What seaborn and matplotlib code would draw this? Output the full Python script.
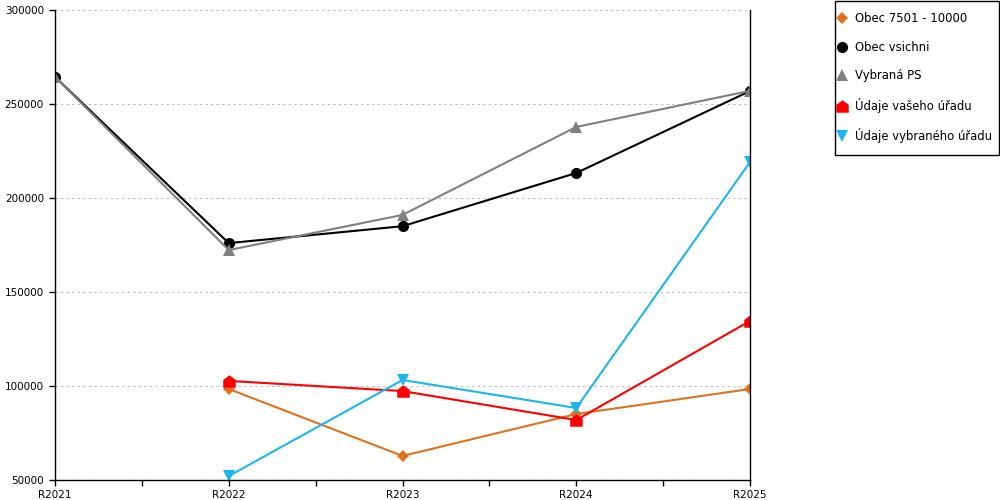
import matplotlib
matplotlib.use("Agg")
import matplotlib.pyplot as plt
import seaborn as sns
import pandas as pd
import numpy as np
from matplotlib.lines import Line2D
from matplotlib.patches import Rectangle

years = ["R2021", "R2022", "R2023", "R2024", "R2025"]

obec_7501 = [np.nan, 98400, 62800, 85100, 98400]
obec_vsichni = [264400, 176000, 185000, 213300, 256900]
vybrana_ps = [264400, 172300, 191000, 237800, 257000]
udaje_vaseho = [np.nan, 102700, 97300, 81900, 134600]
udaje_vybraneho = [np.nan, 52100, 103200, 88300, 219100]

# house shaped marker for the red series
house = [(-1, -1), (1, -1), (1, 0.25), (0, 1), (-1, 0.25), (-1, -1)]

series = [
    ("Obec 7501 - 10000", obec_7501, "#E2711D", "D", 6),
    ("Obec vsichni", obec_vsichni, "#000000", "o", 8),
    ("Vybraná PS", vybrana_ps, "#808080", "^", 8),
    ("Údaje vašeho úřadu", udaje_vaseho, "#FF0000", house, 9),
    ("Údaje vybraného úřadu", udaje_vybraneho, "#1CB5F0", "v", 9),
]

sns.set_style("white")
plt.rcParams["font.family"] = ["DejaVu Sans"]
plt.rcParams["text.color"] = "black"
plt.rcParams["xtick.color"] = "black"
plt.rcParams["ytick.color"] = "black"

fig = plt.figure(figsize=(10, 5), dpi=100)
ax = fig.add_axes([0.055, 0.04, 0.695, 0.94])

x_pos = np.arange(len(years))
handles = []
for name, vals, col, mk, ms in series:
    df = pd.DataFrame({"x": x_pos, "y": vals}).dropna()
    sns.lineplot(data=df, x="x", y="y", ax=ax, color=col, marker=mk,
                 markersize=ms, markeredgewidth=0, linewidth=1.5, legend=False)
    handles.append(Line2D([], [], color=col, marker=mk, markersize=ms,
                          markeredgewidth=0, linestyle="none", label=name))

ax.set_xlim(0, 4)
ax.set_ylim(50000, 300000)
ax.set_yticks(np.arange(50000, 300001, 50000))
ax.set_yticklabels([str(v) for v in range(50000, 300001, 50000)], fontsize=7.5)
ax.set_xticks(x_pos)
ax.set_xticklabels(years, fontsize=7.5)
ax.set_xticks(x_pos[:-1] + 0.5, minor=True)
ax.tick_params(axis="x", which="both", direction="out", length=4.5, width=1,
               pad=2.5, bottom=True)
ax.tick_params(axis="y", direction="out", length=4, width=1, pad=4, left=True)
ax.set_xlabel("")
ax.set_ylabel("")
ax.grid(axis="y", linestyle=(0, (2, 3)), color="#bbbbbb", linewidth=0.8)
ax.grid(axis="x", visible=False)
ax.set_axisbelow(True)

for side in ["left", "bottom", "right"]:
    ax.spines[side].set_visible(True)
    ax.spines[side].set_color("black")
    ax.spines[side].set_linewidth(1)
ax.spines["top"].set_visible(False)

# legend box drawn by hand, legend placed inside it
fig.patches.append(Rectangle((0.835, 0.69), 0.164, 0.308, transform=fig.transFigure,
                             fill=False, edgecolor="black", linewidth=1))
leg = fig.legend(handles=handles, loc="upper left",
                 bbox_to_anchor=(0.835, 0.982), fontsize=8.4, frameon=False,
                 handlelength=0.6, handletextpad=0.8, labelspacing=1.32,
                 borderpad=0.3, borderaxespad=0)

fig.savefig("out.png", dpi=100)
